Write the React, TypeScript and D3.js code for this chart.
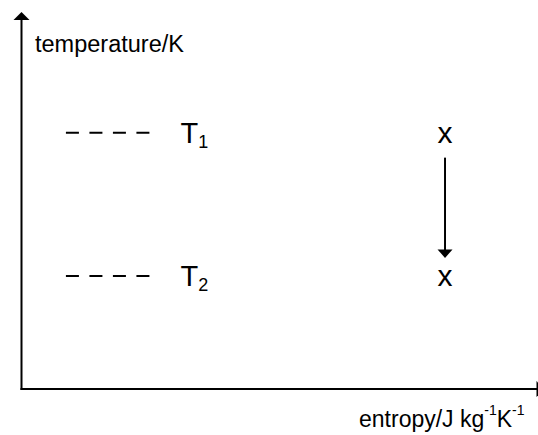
import { useEffect, useRef } from 'react'
import * as d3 from 'd3'

// temperature levels (arbitrary units on a 0-100 axis)
const levelNames = ['T', 'T']
const levelSubs = ['1', '2']
const levelValues = [68, 30]

// the two states, marked with an x, at the same entropy
const stateEntropy = [82, 82]
const stateTemp = [68, 30]

// dashed guide extent and label position along the entropy axis
const guideExtent = [8.6, 25]
const labelAt = 30.8

const width = 538
const height = 435
const font = '"Liberation Sans", Arial, Helvetica, sans-serif'

export default function App() {
  const svgRef = useRef<SVGSVGElement | null>(null)

  useEffect(() => {
    if (!svgRef.current) return
    const svg = d3.select(svgRef.current)
    svg.selectAll('*').remove()

    const x = d3.scaleLinear().domain([0, 100]).range([21.5, 538])
    const y = d3.scaleLinear().domain([0, 100]).range([389, 12])

    // axes with arrow heads (the x one runs off the right edge)
    svg.append('line')
      .attr('x1', x(0)).attr('x2', x(0))
      .attr('y1', y(0) + 1).attr('y2', y(100) + 6)
      .attr('stroke', '#000').attr('stroke-width', 2)
    svg.append('path')
      .attr('d', `M${x(0)},${y(100)} L${x(0) - 8},${y(100) + 8} L${x(0) + 8},${y(100) + 8} Z`)
      .attr('fill', '#000')

    svg.append('line')
      .attr('x1', x(0) - 1).attr('x2', x(100))
      .attr('y1', y(0)).attr('y2', y(0))
      .attr('stroke', '#000').attr('stroke-width', 2)
    svg.append('path')
      .attr('d', `M${x(100) + 7},${y(0)} L${x(100) - 1.5},${y(0) - 8} L${x(100) - 1.5},${y(0) + 8} Z`)
      .attr('fill', '#000')

    // axis titles
    svg.append('text')
      .attr('x', 35).attr('y', 52)
      .attr('font-family', font).attr('font-size', 23.5)
      .attr('fill', '#000')
      .text('temperature/K')

    const xt = svg.append('text')
      .attr('x', 359).attr('y', 427)
      .attr('font-family', font).attr('font-size', 23)
      .attr('fill', '#000')
    xt.append('tspan').text('entropy/J kg')
    xt.append('tspan').attr('dy', -12).attr('font-size', 14).text('-1')
    xt.append('tspan').attr('dy', 12).text('K')
    xt.append('tspan').attr('dy', -12).attr('font-size', 14).text('-1')

    // dashed temperature levels
    const lv = svg.append('g')
      .selectAll('g')
      .data(levelValues.map((v, i) => ({ v, name: levelNames[i], sub: levelSubs[i] })))
      .join('g')

    lv.append('line')
      .attr('x1', x(guideExtent[0])).attr('x2', x(guideExtent[1]))
      .attr('y1', d => y(d.v)).attr('y2', d => y(d.v))
      .attr('stroke', '#000').attr('stroke-width', 2)
      .attr('stroke-dasharray', '13 10.5')

    const lt = lv.append('text')
      .attr('x', x(labelAt)).attr('y', d => y(d.v) + 10)
      .attr('font-family', font).attr('font-size', 29)
      .attr('fill', '#000')
    lt.append('tspan').text(d => d.name)
    lt.append('tspan').attr('dy', 5).attr('font-size', 18).text(d => d.sub)

    // state markers
    svg.append('g')
      .selectAll('text')
      .data(stateTemp.map((t, i) => ({ t, s: stateEntropy[i] })))
      .join('text')
      .attr('x', d => x(d.s)).attr('y', d => y(d.t) + 10)
      .attr('text-anchor', 'middle')
      .attr('font-family', font).attr('font-size', 30)
      .attr('fill', '#000')
      .text('x')

    // arrow between the states
    const ax = x(stateEntropy[0])
    const top = y(stateTemp[0]) + 25
    const tip = y(stateTemp[1]) - 18
    svg.append('line')
      .attr('x1', ax).attr('x2', ax)
      .attr('y1', top).attr('y2', tip - 6)
      .attr('stroke', '#000').attr('stroke-width', 2)
    svg.append('path')
      .attr('d', `M${ax},${tip} L${ax - 7.5},${tip - 8.5} L${ax + 7.5},${tip - 8.5} Z`)
      .attr('fill', '#000')
  }, [])

  return (
    <svg
      ref={svgRef}
      width={width}
      height={height}
      style={{ position: 'absolute', left: 0, top: 0, display: 'block', background: '#fff' }}
    />
  )
}
